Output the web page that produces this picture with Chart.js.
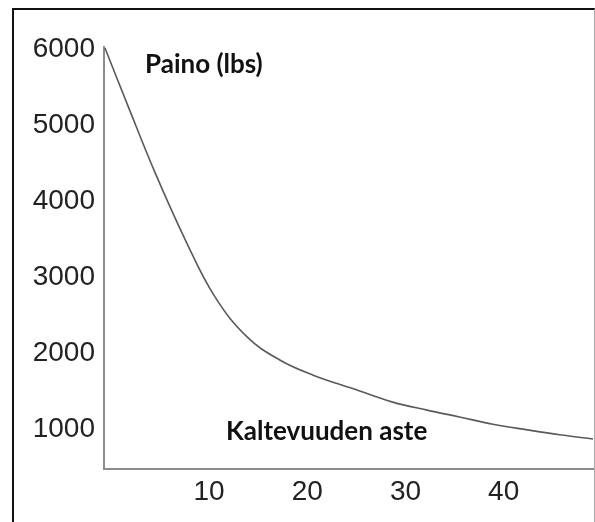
<!DOCTYPE html>
<html>
<head>
<meta charset="utf-8">
<script src="https://cdn.jsdelivr.net/npm/chart.js@4.4.1/dist/chart.umd.min.js"></script>
<style>
  html, body { margin: 0; padding: 0; background: #fff; }
  #wrap { position: relative; width: 595px; height: 522px; overflow: hidden; }
  #frame { position: absolute; left: 12px; top: 8px; width: 580px; height: 600px;
           border-left: 2px solid #111; border-top: 2px solid #111; border-right: 1px solid #aaa;
           pointer-events: none; }
</style>
</head>
<body>
<div id="wrap">
  <canvas id="c" width="595" height="522"></canvas>
  <div id="frame"></div>
</div>
<script>
// Data
const slopeDegrees = [-0.6, 1.8, 4.5, 7.6, 10.6, 13.9, 17.2, 20.6, 24.7, 28.7, 32.2, 35.5, 38.9, 42.4, 45.7, 49.1];
const weightLbs    = [6020, 5240, 4380, 3490, 2745, 2215, 1915, 1715, 1535, 1360, 1255, 1165, 1070, 995, 930, 875];
const xTickValues  = [10, 20, 30, 40];
const yTickValues  = [1000, 2000, 3000, 4000, 5000, 6000];
const yAxisTitle   = "Paino (lbs)";
const xAxisTitle   = "Kaltevuuden aste";

const points = slopeDegrees.map((x, i) => ({ x: x, y: weightLbs[i] }));

const titlesPlugin = {
  id: 'innerTitles',
  afterDraw(chart) {
    const ctx = chart.ctx;
    ctx.save();
    ctx.fillStyle = '#111';
    ctx.font = 'bold 26px Lato, "Open Sans", sans-serif';
    ctx.textAlign = 'left';
    ctx.textBaseline = 'alphabetic';
    ctx.fillText(yAxisTitle, 145, 73);
    ctx.fillText(xAxisTitle, 226, 440);
    ctx.restore();
  }
};

new Chart(document.getElementById('c'), {
  type: 'line',
  data: {
    datasets: [{
      data: points,
      borderColor: '#5a5a5a',
      borderWidth: 1.6,
      pointRadius: 0,
      fill: false,
      tension: 0.4
    }]
  },
  options: {
    responsive: false,
    animation: false,
    layout: { padding: { left: 0, top: 47, right: 0, bottom: 0 } },
    plugins: { legend: { display: false }, tooltip: { enabled: false } },
    scales: {
      x: {
        type: 'linear',
        min: -0.7,
        max: 49.3,
        grid: { display: false, drawTicks: false },
        border: { display: true, color: '#8c8c8c', width: 2 },
        afterBuildTicks: s => { s.ticks = xTickValues.map(v => ({ value: v })); },
        afterFit: s => { s.height = 53; },
        ticks: {
          color: '#222',
          padding: 6,
          font: { family: '"Liberation Sans", Arial, sans-serif', size: 28 },
          maxRotation: 0,
          autoSkip: false,
          callback: v => String(v)
        }
      },
      y: {
        type: 'linear',
        min: 480,
        max: 6034,
        grid: { display: false, drawTicks: false },
        border: { display: true, color: '#8c8c8c', width: 2 },
        afterBuildTicks: s => { s.ticks = yTickValues.map(v => ({ value: v })); },
        afterFit: s => { s.width = 104; },
        ticks: {
          color: '#222',
          padding: 9,
          font: { family: '"Liberation Sans", Arial, sans-serif', size: 28 },
          autoSkip: false,
          callback: v => String(v)
        }
      }
    }
  },
  plugins: [titlesPlugin]
});
</script>
</body>
</html>
